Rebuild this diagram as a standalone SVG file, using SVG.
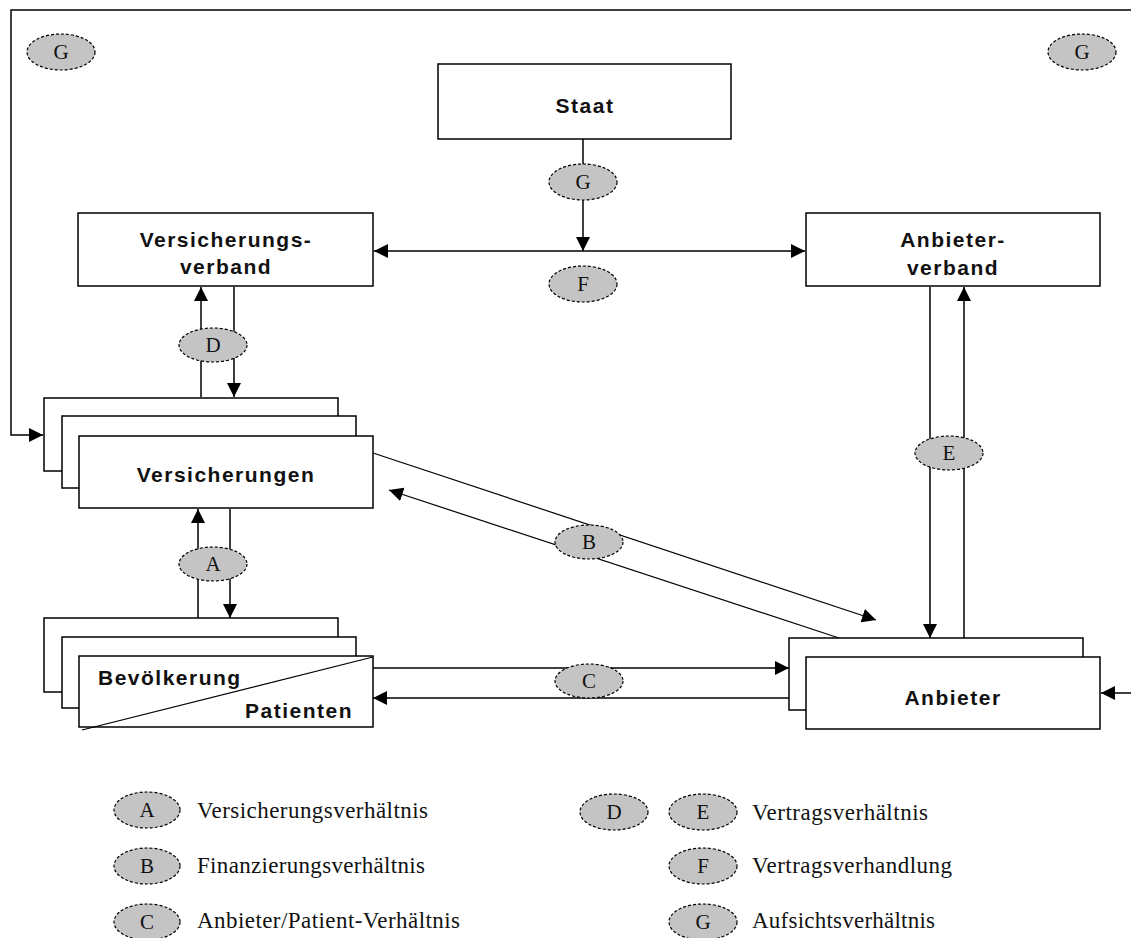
<svg xmlns="http://www.w3.org/2000/svg" width="1131" height="938" viewBox="0 0 1131 938">
<style>
.box{fill:#fff;stroke:#000;stroke-width:1.5}
.lbl{font-family:"Liberation Sans",Arial,sans-serif;font-weight:bold;font-size:21px;letter-spacing:1.5px;fill:#111}
.ov{fill:#c4c4c4;stroke:#000;stroke-width:1.2;stroke-dasharray:3,2}
.ot{font-family:"Liberation Serif","Times New Roman",serif;font-size:21px;fill:#111;text-anchor:middle}
.lt{font-family:"Liberation Serif","Times New Roman",serif;font-size:23px;fill:#111}
.ln{fill:none;stroke:#000;stroke-width:1.5}
.thin{fill:none;stroke:#000;stroke-width:1.2}
</style>
<defs>
<marker id="ah" viewBox="0 0 12 12" refX="12" refY="6" markerWidth="14" markerHeight="14" markerUnits="userSpaceOnUse" orient="auto">
<path d="M0,0 L12,6 L0,12 z" fill="#000"/>
</marker>
</defs>
<rect width="1131" height="938" fill="#fff"/>

<g id="connectors">
<path class="ln" d="M1131,10 L11,10 L11,435 L43,435" marker-end="url(#ah)"/>
<line class="ln" x1="1131" y1="693" x2="1101" y2="693" marker-end="url(#ah)"/>
<line class="ln" x1="583" y1="139" x2="583" y2="251" marker-end="url(#ah)"/>
<line class="ln" x1="583" y1="251" x2="374" y2="251" marker-end="url(#ah)"/>
<line class="ln" x1="583" y1="251" x2="805" y2="251" marker-end="url(#ah)"/>
<line class="ln" x1="201" y1="397" x2="201" y2="287" marker-end="url(#ah)"/>
<line class="ln" x1="234" y1="287" x2="234" y2="397" marker-end="url(#ah)"/>
<line class="ln" x1="198" y1="618" x2="198" y2="509" marker-end="url(#ah)"/>
<line class="ln" x1="230" y1="509" x2="230" y2="618" marker-end="url(#ah)"/>
<line class="ln" x1="930" y1="287" x2="930" y2="638" marker-end="url(#ah)"/>
<line class="ln" x1="964" y1="638" x2="964" y2="287" marker-end="url(#ah)"/>
<line class="thin" x1="373" y1="453" x2="876" y2="620" marker-end="url(#ah)"/>
<line class="thin" x1="839" y1="638" x2="389" y2="490" marker-end="url(#ah)"/>
<line class="ln" x1="373" y1="668" x2="789" y2="668" marker-end="url(#ah)"/>
<line class="ln" x1="789" y1="698" x2="373" y2="698" marker-end="url(#ah)"/>
</g>

<g id="node-staat">
<rect class="box" x="438" y="64" width="293" height="75"/>
<text class="lbl" x="585" y="113" text-anchor="middle">Staat</text>
</g>

<g id="node-versicherungsverband">
<rect class="box" x="78" y="213" width="295" height="73"/>
<text class="lbl" x="226" y="247" text-anchor="middle">Versicherungs-</text>
<text class="lbl" x="226" y="274" text-anchor="middle">verband</text>
</g>

<g id="node-anbieterverband">
<rect class="box" x="806" y="213" width="294" height="73"/>
<text class="lbl" x="953" y="247" text-anchor="middle">Anbieter-</text>
<text class="lbl" x="953" y="275" text-anchor="middle">verband</text>
</g>

<g id="node-versicherungen">
<rect class="box" x="44" y="398" width="294" height="73"/>
<rect class="box" x="62" y="416" width="294" height="72"/>
<rect class="box" x="79" y="436" width="294" height="72"/>
<text class="lbl" x="226" y="482" text-anchor="middle">Versicherungen</text>
</g>

<g id="node-bevoelkerung">
<rect class="box" x="44" y="618" width="294" height="74"/>
<rect class="box" x="62" y="637" width="294" height="71"/>
<rect class="box" x="79" y="656" width="294" height="71"/>
<line class="thin" x1="373" y1="657" x2="82" y2="730"/>
<text class="lbl" x="98" y="685">Bevölkerung</text>
<text class="lbl" x="353" y="718" text-anchor="end">Patienten</text>
</g>

<g id="node-anbieter">
<rect class="box" x="789" y="638" width="294" height="72"/>
<rect class="box" x="806" y="657" width="294" height="72"/>
<text class="lbl" x="953" y="705" text-anchor="middle">Anbieter</text>
</g>

<g id="label-g-topleft"><ellipse class="ov" cx="61" cy="52" rx="34" ry="18"/><text class="ot" x="61" y="59">G</text></g>
<g id="label-g-topright"><ellipse class="ov" cx="1082" cy="52" rx="34" ry="18"/><text class="ot" x="1082" y="59">G</text></g>
<g id="label-g"><ellipse class="ov" cx="583" cy="182" rx="34" ry="18"/><text class="ot" x="583" y="189">G</text></g>
<g id="label-f"><ellipse class="ov" cx="583" cy="284" rx="34" ry="18"/><text class="ot" x="583" y="291">F</text></g>
<g id="label-d"><ellipse class="ov" cx="213" cy="345" rx="34" ry="17"/><text class="ot" x="213" y="352">D</text></g>
<g id="label-a"><ellipse class="ov" cx="213" cy="564" rx="34" ry="17"/><text class="ot" x="213" y="571">A</text></g>
<g id="label-b"><ellipse class="ov" cx="589" cy="542" rx="34" ry="17"/><text class="ot" x="589" y="549">B</text></g>
<g id="label-c"><ellipse class="ov" cx="589" cy="681" rx="34" ry="17"/><text class="ot" x="589" y="688">C</text></g>
<g id="label-e"><ellipse class="ov" cx="949" cy="453" rx="34" ry="17"/><text class="ot" x="949" y="460">E</text></g>

<g id="legend">
<ellipse class="ov" cx="147" cy="810" rx="33" ry="18"/><text class="ot" x="147" y="817">A</text>
<text class="lt" x="197" y="818" textLength="231" lengthAdjust="spacing">Versicherungsverhältnis</text>
<ellipse class="ov" cx="147" cy="866" rx="33" ry="18"/><text class="ot" x="147" y="873">B</text>
<text class="lt" x="197" y="873" textLength="228" lengthAdjust="spacing">Finanzierungsverhältnis</text>
<ellipse class="ov" cx="147" cy="922" rx="33" ry="18"/><text class="ot" x="147" y="929">C</text>
<text class="lt" x="197" y="928" textLength="263" lengthAdjust="spacing">Anbieter/Patient-Verhältnis</text>
<ellipse class="ov" cx="614" cy="812" rx="34" ry="18"/><text class="ot" x="614" y="819">D</text>
<ellipse class="ov" cx="703" cy="812" rx="34" ry="18"/><text class="ot" x="703" y="819">E</text>
<text class="lt" x="752" y="820" textLength="176" lengthAdjust="spacing">Vertragsverhältnis</text>
<ellipse class="ov" cx="703" cy="866" rx="34" ry="18"/><text class="ot" x="703" y="873">F</text>
<text class="lt" x="752" y="873" textLength="200" lengthAdjust="spacing">Vertragsverhandlung</text>
<ellipse class="ov" cx="703" cy="922" rx="34" ry="18"/><text class="ot" x="703" y="929">G</text>
<text class="lt" x="752" y="928" textLength="183" lengthAdjust="spacing">Aufsichtsverhältnis</text>
</g>
</svg>
